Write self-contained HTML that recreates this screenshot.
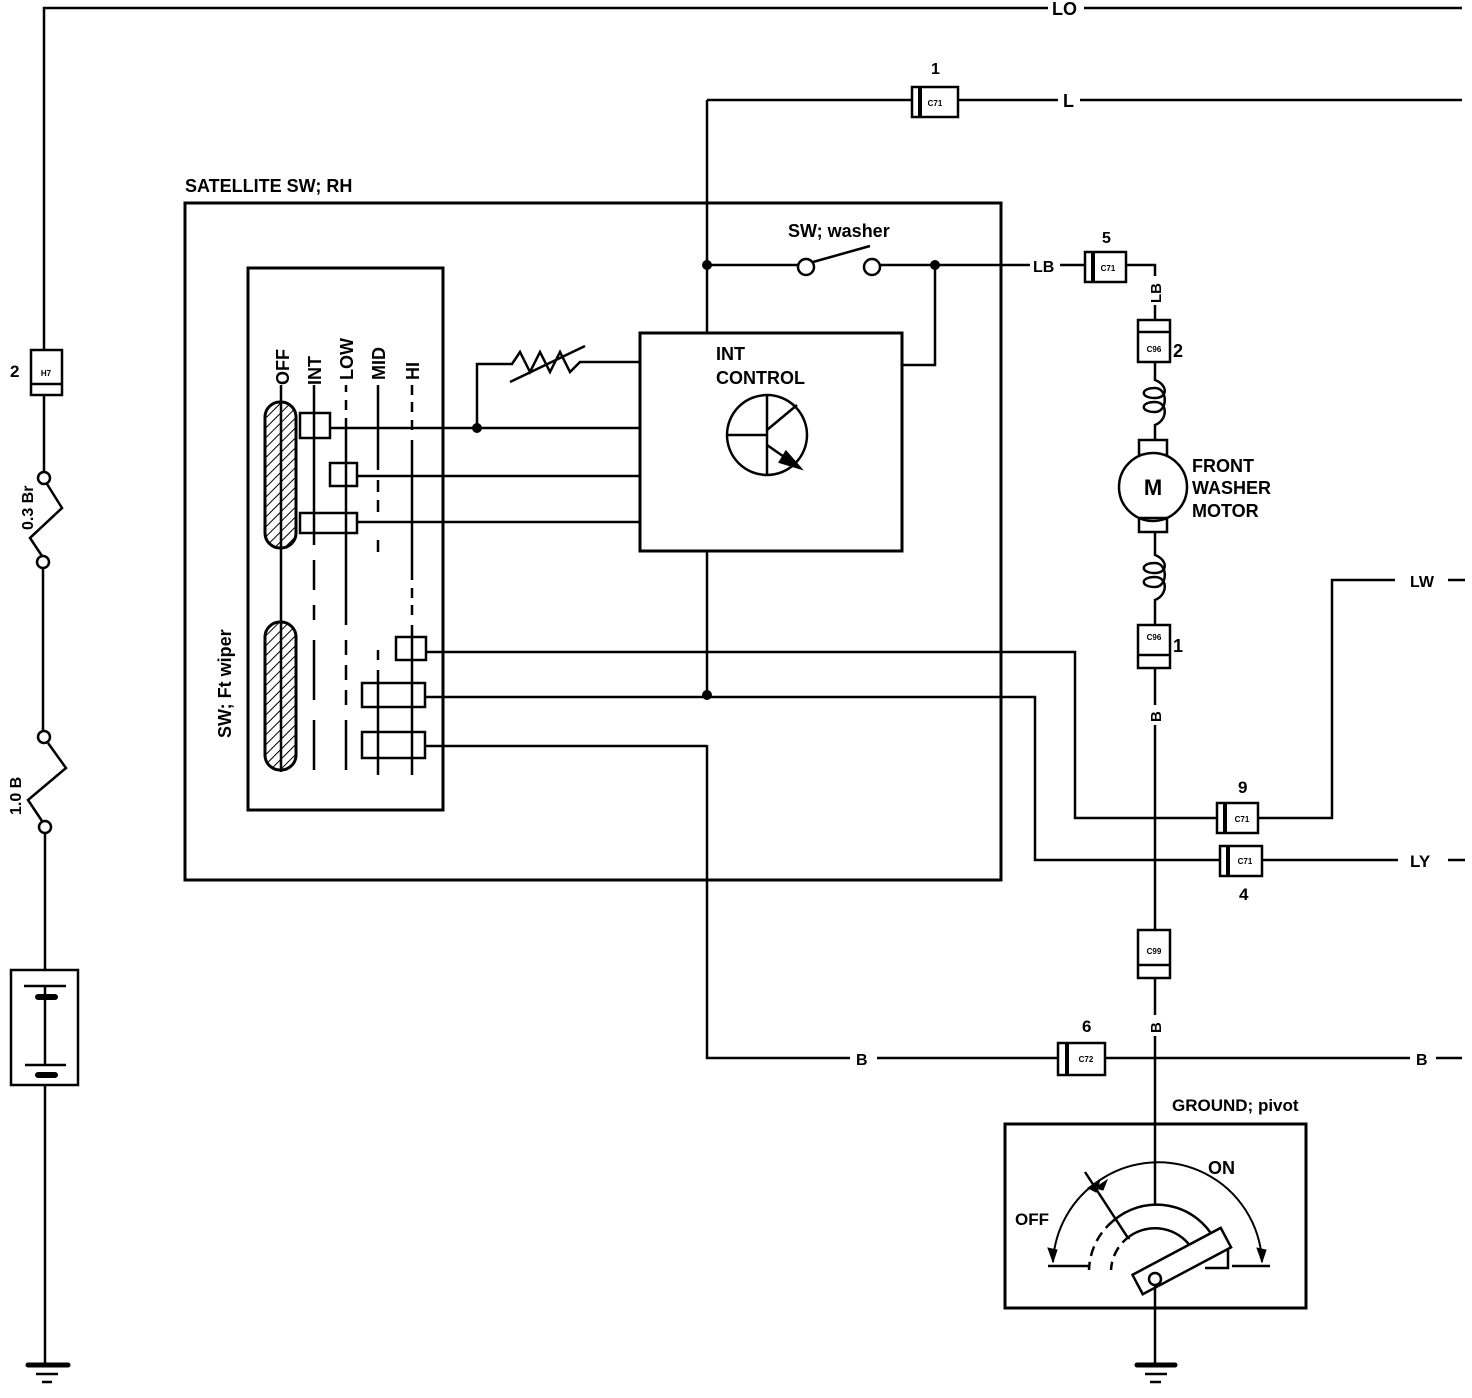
<!DOCTYPE html>
<html><head><meta charset="utf-8"><style>
html,body{margin:0;padding:0;background:#fff;}
svg{display:block;}
text{font-family:"Liberation Sans",sans-serif;font-weight:bold;fill:#000;}
</style></head><body>
<svg width="1472" height="1398" viewBox="0 0 1472 1398" xmlns="http://www.w3.org/2000/svg">
<defs>
<pattern id="hat" width="7" height="7" patternUnits="userSpaceOnUse" patternTransform="rotate(45)">
<line x1="0" y1="0" x2="0" y2="7" stroke="#000" stroke-width="2"/>
</pattern>
</defs>
<g stroke="#000" stroke-width="2.5" fill="none">
<path d="M44 350 V8 H1048 M1084 8 H1462"/>
<rect x="31" y="350" width="31" height="45" fill="#fff"/>
<line x1="31" y1="384" x2="62" y2="384"/>
<path d="M44 395 V471"/>
<circle cx="44" cy="478" r="6" fill="#fff"/>
<path d="M47 484 L62 508 L30 538 L42 556"/>
<circle cx="43" cy="562" r="6" fill="#fff"/>
<path d="M43 568 V731"/>
<circle cx="44" cy="737" r="6" fill="#fff"/>
<path d="M48 743 L66 768 L28 800 L42 821"/>
<circle cx="45" cy="827" r="6" fill="#fff"/>
<path d="M45 833 V970"/>
<rect x="11" y="970" width="67" height="115"/>
<path d="M24 986 H66 M25 1065 H66 M45 986 V1065 M45 1085 V1365"/>
<path d="M38 997 H55 M38 1075 H55" stroke-width="6" stroke-linecap="round"/>
<path d="M28 1365 H68" stroke-width="5" stroke-linecap="round"/>
<path d="M36 1374 H58 M42 1382 H52"/>
<path d="M707 100 H912 M958 100 H1058 M1080 100 H1462"/>
<rect x="912" y="87" width="46" height="30" fill="#fff"/>
<line x1="920" y1="87" x2="920" y2="117" stroke-width="4"/>
<path d="M707 100 V333 M707 552 V695"/>
<path d="M707 745 V1058 H850 M877 1058 H1058 M1105 1058 H1410 M1436 1058 H1462"/>
<rect x="185" y="203" width="816" height="677" stroke-width="3"/>
<rect x="248" y="268" width="195" height="542" stroke-width="3"/>
<path d="M281 385 V772"/>
<path d="M314 385 V545 M314 560 V590 M314 605 V620 M314 640 V700 M314 720 V770"/>
<path d="M346 385 V392 M346 400 V410 M346 418 V625 M346 640 V655 M346 665 V680 M346 690 V705 M346 720 V770"/>
<path d="M378 385 V470 M378 480 V492 M378 500 V512 M378 540 V552 M378 650 V660 M378 670 V775"/>
<path d="M412 385 V395 M412 402 V412 M412 420 V430 M412 440 V580 M412 588 V598 M412 605 V615 M412 625 V775"/>
<rect x="265" y="402" width="31" height="146" rx="15" fill="url(#hat)" stroke-width="3"/>
<rect x="265" y="622" width="31" height="148" rx="15" fill="url(#hat)" stroke-width="3"/>
<rect x="300" y="413" width="30" height="25"/>
<rect x="330" y="463" width="27" height="23"/>
<rect x="300" y="513" width="57" height="20"/>
<rect x="396" y="637" width="30" height="23"/>
<rect x="362" y="683" width="63" height="24"/>
<rect x="362" y="732" width="63" height="26"/>
<path d="M330 428 H640 M357 476 H640 M357 522 H640"/>
<path d="M426 652 H1075 V818 H1217 M1258 818 H1332 V580 H1395 M1448 580 H1465"/>
<path d="M425 697 H1035 V860 H1220 M1262 860 H1398 M1448 860 H1465"/>
<path d="M425 746 H707"/>
<path d="M477 428 V364 H512 L520 352 L530 372 L540 352 L550 372 L560 352 L570 372 L580 362 H640"/>
<path d="M510 382 L585 346"/>
<rect x="640" y="333" width="262" height="218" stroke-width="3"/>
<circle cx="767" cy="435" r="40"/>
<path d="M767 395 V475 M727 435 H767 M767 430 L797 405 M767 445 L800 468"/>
<path d="M800 468 L786 452 L780 462 Z" fill="#000"/>
<path d="M902 365 H935 V265"/>
<path d="M707 265 H798 M880 265 H1030 M1060 265 H1085 M1126 265 H1155 V276"/>
<circle cx="806" cy="267" r="8" fill="#fff"/>
<circle cx="872" cy="267" r="8" fill="#fff"/>
<path d="M813 262 L870 246"/>
<rect x="1085" y="252" width="41" height="30" fill="#fff"/>
<line x1="1093" y1="252" x2="1093" y2="282" stroke-width="4"/>
<path d="M1155 305 V320"/>
<rect x="1138" y="320" width="32" height="42" fill="#fff"/>
<line x1="1138" y1="332" x2="1170" y2="332"/>
<path d="M1155 362 V380 C1168 385 1168 398 1155 398 C1140 398 1140 388 1155 388 C1168 388 1168 412 1155 412 C1140 412 1140 402 1155 402 C1168 402 1168 420 1155 425 V440"/>
<rect x="1139" y="440" width="28" height="15"/>
<circle cx="1153" cy="487" r="34" fill="#fff"/>
<rect x="1139" y="518" width="28" height="14"/>
<path d="M1155 532 V555 C1168 560 1168 573 1155 573 C1140 573 1140 563 1155 563 C1168 563 1168 587 1155 587 C1140 587 1140 577 1155 577 C1168 577 1168 595 1155 600 V625"/>
<rect x="1138" y="625" width="32" height="43" fill="#fff"/>
<line x1="1138" y1="655" x2="1170" y2="655"/>
<path d="M1155 668 V705 M1155 725 V930"/>
<rect x="1138" y="930" width="32" height="48" fill="#fff"/>
<line x1="1138" y1="965" x2="1170" y2="965"/>
<path d="M1155 978 V1015 M1155 1036 V1206"/>
<rect x="1217" y="803" width="41" height="30" fill="#fff"/>
<line x1="1225" y1="803" x2="1225" y2="833" stroke-width="4"/>
<rect x="1220" y="846" width="42" height="30" fill="#fff"/>
<line x1="1228" y1="846" x2="1228" y2="876" stroke-width="4"/>
<rect x="1058" y="1043" width="47" height="32" fill="#fff"/>
<line x1="1067" y1="1043" x2="1067" y2="1075" stroke-width="4"/>
<!-- ground box -->
<rect x="1005" y="1124" width="301" height="184" stroke-width="3"/>
<path d="M1048 1266 H1088 M1205 1268 H1228 V1250 M1232 1266 H1270"/>
<path d="M1053 1262 A104 104 0 0 1 1100 1180" stroke-width="2"/>
<path d="M1100 1180 A104 104 0 0 1 1262 1262" stroke-width="2"/>
<path d="M1053 1262 l-5 -14 l9 2 z M1262 1262 l-5 -14 l9 2z M1100 1180 l-12 8 l8 4 z M1095 1188 l12 -8 l-4 10z" fill="#000" stroke-width="1"/>
<path d="M1085 1172 L1128 1238 H1130"/>
<path d="M1113 1221 A66 66 0 0 1 1215 1240"/>
<path d="M1113 1221 A66 66 0 0 0 1089 1270" stroke-dasharray="10 6"/>
<path d="M1130 1236 A44 44 0 0 1 1191 1247"/>
<path d="M1130 1236 A44 44 0 0 0 1111 1270" stroke-dasharray="10 6"/>
<g transform="rotate(-28 1180 1262)">
<rect x="1132" y="1251" width="100" height="22" fill="#fff"/>
</g>
<circle cx="1155" cy="1279" r="6"/>
<path d="M1155 1285 V1365"/>
<path d="M1137 1365 H1175" stroke-width="5" stroke-linecap="round"/>
<path d="M1145 1374 H1167 M1150 1382 H1161"/>
</g>
<g fill="#000">
<circle cx="707" cy="265" r="5"/>
<circle cx="935" cy="265" r="5"/>
<circle cx="477" cy="428" r="5"/>
<circle cx="707" cy="695" r="5"/>
</g>
<text x="1052" y="15" font-size="18">LO</text>
<text x="1063" y="107" font-size="18">L</text>
<text x="931" y="74" font-size="16">1</text>
<text x="935" y="106" font-size="8" text-anchor="middle">C71</text>
<text x="185" y="192" font-size="18">SATELLITE SW; RH</text>
<text x="788" y="237" font-size="18">SW; washer</text>
<text x="716" y="360" font-size="18">INT</text>
<text x="716" y="384" font-size="18">CONTROL</text>
<text x="1033" y="272" font-size="16">LB</text>
<text x="1102" y="243" font-size="16">5</text>
<text x="1108" y="271" font-size="8" text-anchor="middle">C71</text>
<text transform="translate(1161 303) rotate(-90)" font-size="15">LB</text>
<text x="1154" y="352" font-size="8" text-anchor="middle">C96</text>
<text x="1173" y="357" font-size="18" font-weight="normal">2</text>
<text x="1153" y="495" font-size="22" text-anchor="middle" font-weight="normal">M</text>
<text x="1192" y="472" font-size="18">FRONT</text>
<text x="1192" y="494" font-size="18">WASHER</text>
<text x="1192" y="517" font-size="18">MOTOR</text>
<text x="1154" y="640" font-size="8" text-anchor="middle">C96</text>
<text x="1173" y="652" font-size="18" font-weight="normal">1</text>
<text transform="translate(1161 722) rotate(-90)" font-size="15">B</text>
<text transform="translate(1161 1033) rotate(-90)" font-size="15">B</text>
<text x="1154" y="954" font-size="8" text-anchor="middle">C99</text>
<text x="1410" y="587" font-size="16">LW</text>
<text x="1238" y="793" font-size="17">9</text>
<text x="1242" y="822" font-size="8" text-anchor="middle">C71</text>
<text x="1245" y="864" font-size="8" text-anchor="middle">C71</text>
<text x="1239" y="900" font-size="17">4</text>
<text x="1410" y="867" font-size="17">LY</text>
<text x="856" y="1065" font-size="16">B</text>
<text x="1082" y="1032" font-size="17">6</text>
<text x="1086" y="1062" font-size="8" text-anchor="middle">C72</text>
<text x="1416" y="1065" font-size="16">B</text>
<text x="1172" y="1111" font-size="17">GROUND; pivot</text>
<text x="1208" y="1174" font-size="18">ON</text>
<text x="1015" y="1225" font-size="17">OFF</text>
<text x="10" y="377" font-size="17">2</text>
<text x="46" y="376" font-size="8" text-anchor="middle">H7</text>
<text transform="translate(33 530) rotate(-90)" font-size="16">0.3 Br</text>
<text transform="translate(21 815) rotate(-90)" font-size="16">1.0 B</text>
<text transform="translate(289 385) rotate(-90)" font-size="18" font-weight="normal">OFF</text>
<text transform="translate(321 385) rotate(-90)" font-size="18" font-weight="normal">INT</text>
<text transform="translate(353 380) rotate(-90)" font-size="18" font-weight="normal">LOW</text>
<text transform="translate(385 380) rotate(-90)" font-size="18" font-weight="normal">MID</text>
<text transform="translate(419 380) rotate(-90)" font-size="18" font-weight="normal">HI</text>
<text transform="translate(231 738) rotate(-90)" font-size="18" font-weight="normal">SW; Ft wiper</text>
</svg>
</body></html>
